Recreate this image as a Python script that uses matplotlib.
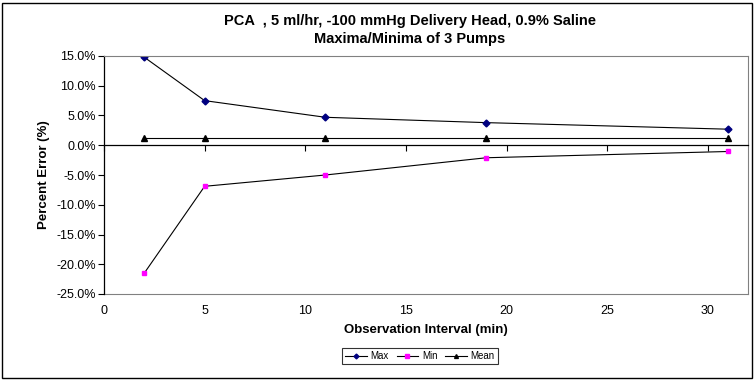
import matplotlib
matplotlib.use("Agg")
import matplotlib.pyplot as plt
from matplotlib.ticker import PercentFormatter, MultipleLocator, FixedLocator
from matplotlib.patches import Rectangle

plt.rcParams['font.family'] = ['Liberation Sans', 'DejaVu Sans']
plt.rcParams['axes.unicode_minus'] = False

interval = [2, 5, 11, 19, 31]
max_err = [0.148, 0.075, 0.047, 0.038, 0.027]
min_err = [-0.215, -0.069, -0.050, -0.021, -0.0105]
mean_err = [0.013, 0.013, 0.013, 0.013, 0.013]
x_ticks = [0, 5, 10, 15, 20, 25, 30]

title = "PCA  , 5 ml/hr, -100 mmHg Delivery Head, 0.9% Saline\nMaxima/Minima of 3 Pumps"
xlabel = "Observation Interval (min)"
ylabel = "Percent Error (%)"
series_names = ["Max", "Min", "Mean"]

fig = plt.figure(figsize=(7.56, 3.80), dpi=100)
ax = fig.add_axes([104/756, 1-294/380, (748-104)/756, (294-56)/380])

ax.plot(interval, max_err, color='black', lw=0.8, marker='D', ms=3.5,
        mfc='#000080', mec='#000080', label=series_names[0])
ax.plot(interval, min_err, color='black', lw=0.8, marker='s', ms=3.5,
        mfc='#FF00FF', mec='#FF00FF', label=series_names[1])
ax.plot(interval, mean_err, color='black', lw=0.8, marker='^', ms=4,
        mfc='black', mec='black', label=series_names[2])

ax.set_xlim(0, 32)
ax.set_ylim(-0.25, 0.15)
ax.yaxis.set_major_locator(MultipleLocator(0.05))
ax.yaxis.set_major_formatter(PercentFormatter(1.0, decimals=1))
ax.xaxis.set_major_locator(FixedLocator(x_ticks))

for s in ['top', 'right']:
    ax.spines[s].set_color('#808080')
    ax.spines[s].set_linewidth(0.8)
ax.spines['left'].set_color('black')
ax.spines['left'].set_linewidth(0.9)
ax.spines['bottom'].set_position(('data', 0))
ax.spines['bottom'].set_color('black')
ax.spines['bottom'].set_linewidth(0.9)
ax.tick_params(axis='x', direction='out', length=4, width=0.8, labelbottom=False)
ax.tick_params(axis='y', direction='out', length=4, width=0.8, labelsize=9, pad=2)

sec = ax.secondary_xaxis(0.0)
sec.xaxis.set_major_locator(FixedLocator(x_ticks))
sec.tick_params(length=0, labelsize=9, pad=8)
sec.spines['bottom'].set_color('#808080')
sec.spines['bottom'].set_linewidth(0.8)
sec.set_xlabel(xlabel, fontsize=9.5, fontweight='bold', labelpad=5)

ax.set_ylabel(ylabel, fontsize=9.5, fontweight='bold', labelpad=4)
fig.text(410/756, 1-30/380, title, ha='center', va='center',
         fontsize=10.5, fontweight='bold', linespacing=1.35)

leg = fig.legend(loc='center', bbox_to_anchor=(420/756, 1-356/380), ncol=3,
                 fontsize=7, frameon=True, fancybox=False, edgecolor='black',
                 handlelength=2.2, handletextpad=0.4, columnspacing=0.8,
                 borderpad=0.35, markerscale=0.7)
leg.get_frame().set_linewidth(0.8)

fig.patches.append(Rectangle((2/756, 2/380), 750/756, 375/380, transform=fig.transFigure,
                             fill=False, edgecolor='black', linewidth=1.0))

fig.savefig('out.png', dpi=100)
